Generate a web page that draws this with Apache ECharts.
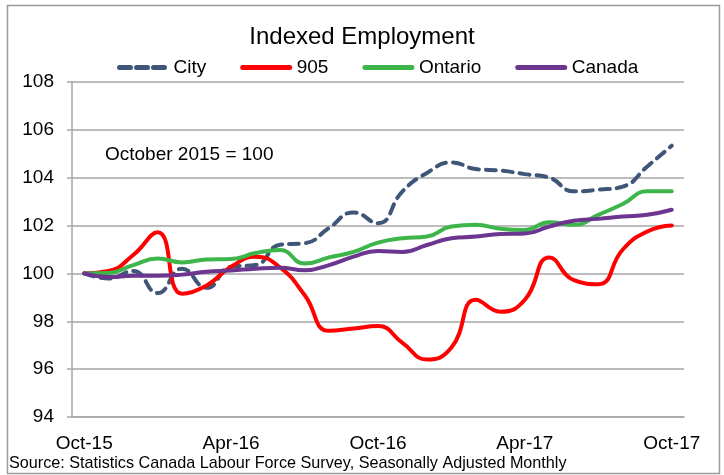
<!DOCTYPE html>
<html>
<head>
<meta charset="utf-8">
<style>
  html, body { margin: 0; padding: 0; background: #fff; }
  #chart { width: 724px; height: 475px; }
</style>
<script src="https://cdn.jsdelivr.net/npm/echarts@6/dist/echarts.min.js"></script>
</head>
<body>
<div id="chart"></div>
<script>
// months, Oct-15 .. Oct-17
var months = ['Oct-15','Nov-15','Dec-15','Jan-16','Feb-16','Mar-16','Apr-16','May-16','Jun-16','Jul-16','Aug-16','Sep-16',
  'Oct-16','Nov-16','Dec-16','Jan-17','Feb-17','Mar-17','Apr-17','May-17','Jun-17','Jul-17','Aug-17','Sep-17','Oct-17'];

var cityData = [100, 99.79, 100.1, 99.18, 100.2, 99.4, 100.28, 100.35, 101.2, 101.26, 101.9, 102.55,
  102.1, 103.43, 104.2, 104.64, 104.36, 104.3, 104.15, 104.0, 103.43, 103.5, 103.63, 104.47, 105.34];
var gtaData = [100, 100.1, 100.77, 101.72, 99.15, 99.5, 100.28, 100.7, 100.25, 99.1, 97.6, 97.7,
  97.8, 97.1, 96.4, 96.9, 98.9, 98.4, 98.9, 100.67, 99.72, 99.55, 101.0, 101.75, 102.0];
var ontarioData = [100, 100.02, 100.35, 100.62, 100.46, 100.58, 100.6, 100.85, 100.98, 100.41, 100.67, 100.9,
  101.29, 101.47, 101.54, 101.96, 102.03, 101.87, 101.82, 102.14, 102.03, 102.45, 102.9, 103.43, 103.43];
var canadaData = [100, 99.85, 99.9, 99.9, 99.95, 100.07, 100.12, 100.2, 100.24, 100.13, 100.35, 100.7,
  100.94, 100.9, 101.19, 101.47, 101.54, 101.65, 101.67, 101.96, 102.2, 102.28, 102.38, 102.45, 102.66];

var font = 'Liberation Sans, Arial, sans-serif';
var gridColor = '#a6a6a6';

var myChart = echarts.init(document.getElementById('chart'));

function lineSeries(name, data, color, dashed) {
  return {
    name: name,
    type: 'line',
    data: data,
    smooth: 0.5,
    symbol: 'none',
    legendIcon: 'none',
    lineStyle: {
      color: color,
      width: 4,
      type: dashed ? [10, 7] : 'solid',
      cap: 'round'
    },
    itemStyle: { color: color }
  };
}

var option = {
  animation: false,
  title: {
    text: 'Indexed Employment',
    left: 'center',
    top: 20,
    textStyle: { fontFamily: font, fontSize: 24, fontWeight: 'normal', color: '#000' }
  },
  legend: {
    top: 53,
    left: 112,
    itemWidth: 47,
    itemHeight: 14,
    itemGap: 34,
    itemStyle: { opacity: 0 },
    lineStyle: { width: 5 },
    textStyle: { fontFamily: font, fontSize: 19, color: '#000', padding: [0, 0, 0, 2] },
    data: [
      { name: 'City', lineStyle: { type: [11, 6], width: 5 } },
      { name: '905' },
      { name: 'Ontario' },
      { name: 'Canada' }
    ]
  },
  grid: { left: 72, right: 40, top: 82, bottom: 58 },
  xAxis: {
    type: 'category',
    data: months,
    boundaryGap: true,
    axisLine: { lineStyle: { color: gridColor, width: 1.5 } },
    axisTick: { interval: 5, length: 5, lineStyle: { color: gridColor, width: 1.5 } },
    axisLabel: { interval: 5, margin: 17, fontFamily: font, fontSize: 19, color: '#000' }
  },
  yAxis: {
    type: 'value',
    min: 94,
    max: 108,
    interval: 2,
    axisLine: { show: true, lineStyle: { color: gridColor, width: 1.5 } },
    axisTick: { show: true, length: 5, lineStyle: { color: gridColor, width: 1.5 } },
    axisLabel: { margin: 18, fontFamily: font, fontSize: 19, color: '#000' },
    splitLine: { lineStyle: { color: gridColor, width: 1.5 } }
  },
  graphic: [
    {
      type: 'rect',
      shape: { x: 7.5, y: 5.5, width: 712, height: 468 },
      style: { fill: 'none', stroke: '#9a9a9a', lineWidth: 1.5 },
      z: -1
    },
    {
      type: 'text',
      left: 105,
      top: 145,
      style: { text: 'October 2015 = 100', font: '19px ' + font, fill: '#000' }
    },
    {
      type: 'text',
      left: 9,
      top: 456,
      style: { text: 'Source: Statistics Canada Labour Force Survey, Seasonally Adjusted Monthly', font: '16.2px ' + font, fill: '#000' }
    }
  ],
  series: [
    lineSeries('City', cityData, '#3f5679', true),
    lineSeries('905', gtaData, '#ff0000', false),
    lineSeries('Ontario', ontarioData, '#3db54a', false),
    lineSeries('Canada', canadaData, '#6c3590', false)
  ]
};

myChart.setOption(option);
</script>
</body>
</html>
